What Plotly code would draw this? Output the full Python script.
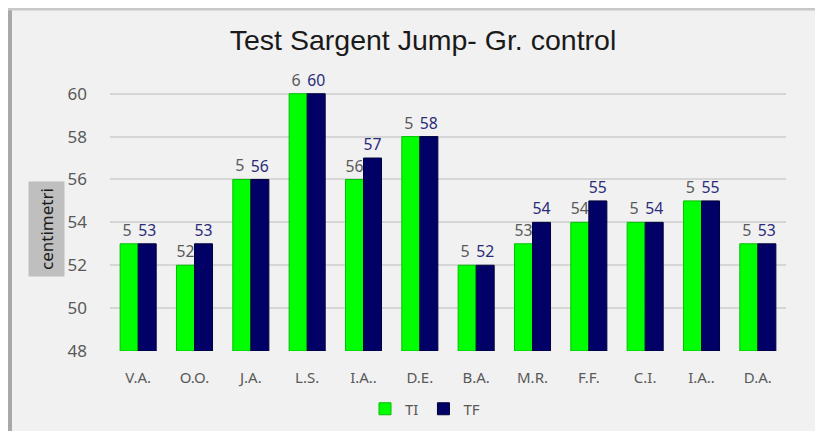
import plotly.graph_objects as go

categories = ["V.A.", "O.O.", "J.A.", "L.S.", "I.A..", "D.E.", "B.A.", "M.R.", "F.F.", "C.I.", "I.A..", "D.A."]
ti_values = [53, 52, 56, 60, 56, 58, 52, 53, 54, 54, 55, 53]
tf_values = [53, 53, 56, 60, 57, 58, 52, 54, 55, 54, 55, 53]
# TI labels as visible in the picture (partly hidden behind the TF labels)
ti_labels = ["5", "52", "5", "6", "56", "5", "5", "53", "54", "5", "5", "5"]
tf_labels = [str(v) for v in tf_values]
y_ticks = [48, 50, 52, 54, 56, 58, 60]

idx = list(range(len(categories)))
base = 48

W, H = 815, 423
ML, MR, MT, MB = 102, 37, 75, 80
PW, PH = W - ML - MR, H - MT - MB

fig = go.Figure()
fig.add_trace(go.Bar(
    x=idx, y=[v - base for v in ti_values], base=base, name="TI",
    marker=dict(color="#00ff00", line=dict(color="#00c000", width=1)),
    text=[l + "\u00a0" if len(l) == 1 else l for l in ti_labels],
    textposition="outside", cliponaxis=False,
    textfont=dict(family="Noto Sans", size=16, color="#5a5a5a"),
    hoverinfo="skip",
))
fig.add_trace(go.Bar(
    x=idx, y=[v - base for v in tf_values], base=base, name="TF",
    marker=dict(color="#000066", line=dict(color="#00003a", width=1)),
    text=tf_labels, textposition="outside", cliponaxis=False,
    textfont=dict(family="Noto Sans", size=16, color="#2b2b7a"),
    hoverinfo="skip",
))

fig.update_layout(
    width=W, height=H,
    paper_bgcolor="#f1f1f1", plot_bgcolor="#f1f1f1",
    margin=dict(l=ML, r=MR, t=MT, b=MB, autoexpand=False),
    barmode="group", bargap=0.36, bargroupgap=0,
    title=dict(text="Test Sargent Jump- Gr. control", x=415 / W, xanchor="center",
               y=1 - 32 / H, yanchor="middle",
               font=dict(family="Liberation Sans Narrow, Arial Narrow, sans-serif", size=28.5, color="#1a1a1a")),
    xaxis=dict(tickmode="array", tickvals=idx, ticktext=categories,
               range=[-0.5, len(categories) - 0.5], showgrid=False, zeroline=False,
               tickfont=dict(family="Noto Sans", size=15, color="#595959"),
               ticks="", ticklabelstandoff=16),
    yaxis=dict(range=[48, 60.5], tickvals=y_ticks, showgrid=True,
               gridcolor="#d6d6d6", gridwidth=1.5, zeroline=False,
               tickfont=dict(family="Noto Sans", size=17, color="#595959"),
               ticks="", ticklabelstandoff=22),
    legend=dict(orientation="h", x=(417 - ML) / PW, xanchor="center",
                y=-58 / PH, yanchor="middle",
                font=dict(family="Noto Sans", size=15, color="#595959"),
                itemwidth=30, bgcolor="rgba(0,0,0,0)"),
    showlegend=True,
)

fig.add_annotation(text="centimetri", xref="paper", yref="paper",
                   x=(38 - ML) / PW, y=(343 - 221) / PH, xanchor="center", yanchor="middle",
                   textangle=-90, showarrow=False,
                   bgcolor="#bfbfbf", borderpad=6,
                   font=dict(family="Noto Sans", size=17, color="#1a1a1a"))

# frame around the chart
fig.add_shape(type="line", xref="paper", yref="paper",
              x0=(2 - ML) / PW, x1=(2 - ML) / PW, y0=-MB / PH - 0.05, y1=1 + MT / PH,
              line=dict(color="#a8a8a8", width=4))
fig.add_shape(type="line", xref="paper", yref="paper",
              x0=-ML / PW, x1=1 + MR / PW, y0=1 + (MT - 1) / PH, y1=1 + (MT - 1) / PH,
              line=dict(color="#c8c8c8", width=3))

fig.write_html("out.html")
